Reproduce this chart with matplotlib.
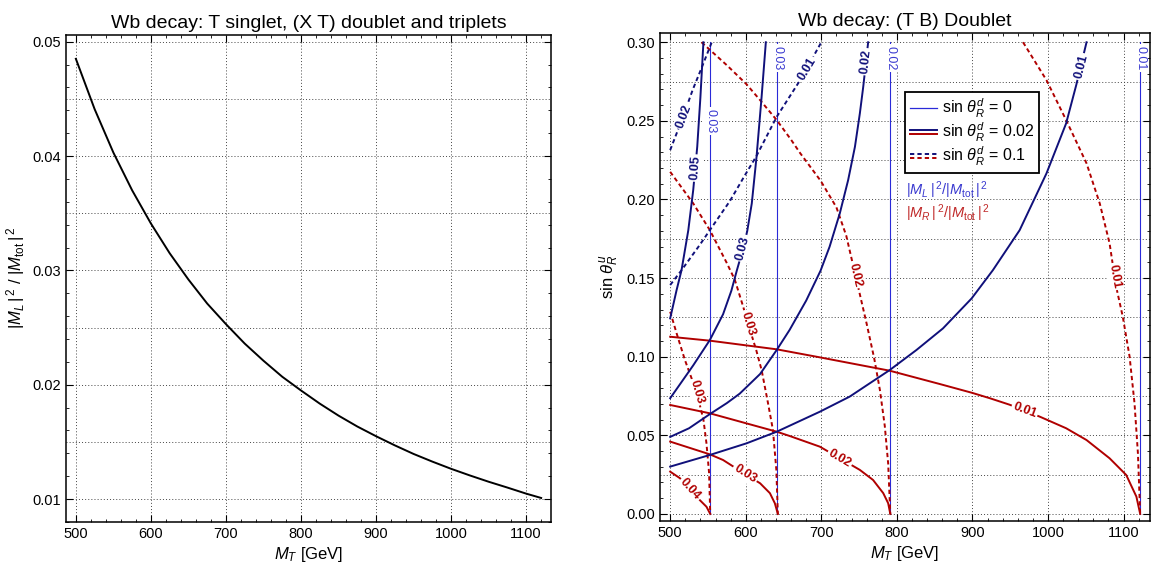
import numpy as np
import matplotlib
matplotlib.use('Agg')
import matplotlib.pyplot as plt
from matplotlib.lines import Line2D
from matplotlib.legend_handler import HandlerBase
from matplotlib.ticker import MultipleLocator, FormatStrFormatter

plt.rcParams['font.family'] = ['Liberation Sans', 'DejaVu Sans']
plt.rcParams['mathtext.fontset'] = 'custom'
plt.rcParams['mathtext.rm'] = 'Liberation Sans'
plt.rcParams['mathtext.it'] = 'Liberation Sans:italic'
plt.rcParams['mathtext.bf'] = 'Liberation Sans:bold'

# ---------------- Left panel data ----------------
mt_left = [500, 525, 550, 575, 600, 625, 650, 675, 700, 725, 750, 775, 800, 825, 850,
           875, 900, 925, 950, 975, 1000, 1025, 1050, 1075, 1100, 1120]
ml_ratio = [0.0485, 0.0441, 0.0403, 0.0370, 0.0341, 0.0315, 0.0292, 0.0271, 0.0253,
            0.0236, 0.0221, 0.0207, 0.0195, 0.01835, 0.0173, 0.01635, 0.0155, 0.0147,
            0.01395, 0.01328, 0.01265, 0.01207, 0.01152, 0.01101, 0.01048, 0.0101]

# ---------------- Right panel data ----------------
# sin theta_R^d = 0 : |M_L|^2/|M_tot|^2 contours (vertical lines)
thin_x = [553, 642, 791, 1122]
thin_labels = ['0.03', '0.03', '0.02', '0.01']
thin_label_y = [0.250, 0.290, 0.290, 0.290]

# sin theta_R^d = 0.02 : |M_L|^2/|M_tot|^2 (navy solid)
navyA_x = [500, 508.5, 515, 524, 530.5, 535.8, 540, 544]
navyA_y = [0.1244, 0.1424, 0.155, 0.1805, 0.206, 0.2335, 0.265, 0.300]
navyB_x = [500, 513, 530.5, 552.5, 570, 581, 588, 596.6, 602, 608, 614.3, 621, 626.6]
navyB_y = [0.0736, 0.0825, 0.0945, 0.1106, 0.1270, 0.1420, 0.1545, 0.1690, 0.1800,
           0.1975, 0.2272, 0.2653, 0.300]
navyC_x = [500, 525, 552.5, 575, 592, 619, 641, 658, 680, 699, 711, 724.5, 735.5, 744.5,
           751, 755.5, 762]
navyC_y = [0.049, 0.0545, 0.0635, 0.0705, 0.0765, 0.0890, 0.1043, 0.1170, 0.1357, 0.1547,
           0.170, 0.1912, 0.2123, 0.2335, 0.2547, 0.2717, 0.300]
navyD_x = [500, 552.5, 601, 641, 698, 737.5, 790.5, 826, 861, 899, 927, 962.5, 998, 1024,
           1037.5, 1051]
navyD_y = [0.0301, 0.0375, 0.0449, 0.0523, 0.065, 0.0746, 0.0915, 0.1043, 0.118, 0.1371,
           0.155, 0.1805, 0.2166, 0.2484, 0.2730, 0.300]
navy_solid = [(navyA_x, navyA_y, '0.05', 533.5, 0.220),
              (navyB_x, navyB_y, '0.03', 596.6, 0.169),
              (navyC_x, navyC_y, '0.02', 759.5, 0.2876),
              (navyD_x, navyD_y, '0.01', 1044, 0.2845)]

# sin theta_R^d = 0.1 : |M_L|^2/|M_tot|^2 (navy dashed)
navyE_x = [500, 515, 539, 552.5, 579, 599, 614, 641, 672, 700]
navyE_y = [0.1456, 0.155, 0.171, 0.1805, 0.199, 0.2155, 0.2275, 0.2526, 0.2759, 0.300]
navyF_x = [500, 517, 530, 541, 555]
navyF_y = [0.2314, 0.2526, 0.2700, 0.2830, 0.300]
navy_dashed = [(navyE_x, navyE_y, '0.01', 681, 0.283),
               (navyF_x, navyF_y, '0.02', 518, 0.253)]

# sin theta_R^d = 0.1 : |M_R|^2/|M_tot|^2 (red dashed)
redG1_x = [541.5, 575, 601, 619, 641, 660, 672, 699, 720, 733, 747, 760, 770, 777.5, 784,
           788.5, 791.3]
redG1_y = [0.300, 0.2854, 0.2733, 0.2632, 0.2505, 0.2380, 0.2295, 0.2120, 0.1950, 0.1770,
           0.1480, 0.1210, 0.0990, 0.0790, 0.0560, 0.0320, 0.0]
redG2_x = [500, 530.5, 552.5, 574.5, 585.5, 596.5, 603, 614, 621, 629.5, 636, 640.5, 642.5]
redG2_y = [0.2176, 0.1975, 0.1805, 0.160, 0.149, 0.132, 0.1212, 0.1040, 0.0915, 0.0704,
           0.0534, 0.028, 0.0]
redG3_x = [500, 508.5, 519.5, 527, 535, 544, 548, 551.5, 553]
redG3_y = [0.1286, 0.1149, 0.0979, 0.0880, 0.0775, 0.0600, 0.0450, 0.0260, 0.0]
redG4_x = [967, 998, 1024, 1051, 1068.5, 1081.5, 1090, 1099, 1108, 1114.5, 1119, 1122]
redG4_y = [0.300, 0.2759, 0.2505, 0.223, 0.1975, 0.1721, 0.145, 0.1254, 0.100, 0.0704,
           0.0386, 0.0]
red_dashed = [(redG1_x, redG1_y, '0.02', 745, 0.152),
              (redG2_x, redG2_y, '0.03', 603, 0.1212),
              (redG3_x, redG3_y, '0.03', 535, 0.0775),
              (redG4_x, redG4_y, '0.01', 1088.5, 0.151)]

# sin theta_R^d = 0.02 : |M_R|^2/|M_tot|^2 (red solid)
redH1_x = [500, 552.5, 641, 698, 790.5, 857, 899, 923, 949, 989, 1024, 1051, 1081.5, 1103.5,
           1117, 1122]
redH1_y = [0.1127, 0.1102, 0.1047, 0.0996, 0.0911, 0.0826, 0.0771, 0.0736, 0.0695, 0.0619,
           0.0545, 0.047, 0.0354, 0.0248, 0.011, 0.0]
redH2_x = [500, 552.5, 641, 658, 698, 724.5, 751, 768.5, 782, 788.5, 791.3]
redH2_y = [0.0693, 0.064, 0.0523, 0.0496, 0.0428, 0.0354, 0.028, 0.0216, 0.0132, 0.0068, 0.0]
redH3_x = [500, 552.5, 570, 599, 619, 632, 638.5, 642.5]
redH3_y = [0.046, 0.0379, 0.0343, 0.0254, 0.0195, 0.0132, 0.0068, 0.0]
redH4_x = [500, 513, 526, 539, 548, 553]
redH4_y = [0.0269, 0.0227, 0.0155, 0.0089, 0.0046, 0.0]
red_solid = [(redH1_x, redH1_y, '0.01', 969, 0.0657),
             (redH2_x, redH2_y, '0.02', 724.5, 0.0354),
             (redH3_x, redH3_y, '0.03', 599, 0.0254),
             (redH4_x, redH4_y, '0.04', 526, 0.0155)]

NAVY = '#10107a'
RED = '#b00000'
BLUE = '#2a2ad8'
BLUE_TXT = '#3a3ad0'
RED_TXT = '#c02828'
GRID = dict(color='#444444', lw=0.7, ls=(0, (1, 2.2)), zorder=0)

fig = plt.figure(figsize=(11.53, 5.75), dpi=100)
axL = fig.add_axes([0.0572, 0.0922, 0.4206, 0.8473])
axR = fig.add_axes([0.5724, 0.0939, 0.4250, 0.8490])


def style_axes(ax):
    for s in ax.spines.values():
        s.set_linewidth(1.1)
        s.set_color('black')
    ax.tick_params(which='both', direction='in', top=True, right=True,
                   labelsize=10.5, colors='black')
    ax.tick_params(which='major', length=5, width=0.8)
    ax.tick_params(which='minor', length=2.5, width=0.6)


# ---------------- Left ----------------
axL.set_xlim(486.8, 1133)
axL.set_ylim(0.0080, 0.0506)
for g in np.arange(500, 1101, 100):
    axL.axvline(g, **GRID)
for g in np.arange(0.010, 0.0501, 0.005):
    axL.axhline(g, **GRID)
axL.plot(mt_left, ml_ratio, color='black', lw=1.4, zorder=3)
axL.xaxis.set_major_locator(MultipleLocator(100))
axL.xaxis.set_minor_locator(MultipleLocator(20))
axL.yaxis.set_major_locator(MultipleLocator(0.01))
axL.yaxis.set_minor_locator(MultipleLocator(0.002))
axL.yaxis.set_major_formatter(FormatStrFormatter('%.2f'))
style_axes(axL)
axL.set_title('Wb decay: T singlet, (X T) doublet and triplets', fontsize=14, pad=5)
axL.set_xlabel(r'$M_T$ [GeV]', fontsize=12, labelpad=3)
axL.set_ylabel(r'$|M_L\,|^{\,2}$ / $|M_{\mathrm{tot}}\,|^{\,2}$', fontsize=12, labelpad=4)

# ---------------- Right ----------------
axR.set_xlim(486.5, 1135)
axR.set_ylim(-0.0045, 0.306)
for g in np.arange(500, 1101, 100):
    axR.axvline(g, **GRID)
for g in np.arange(0.0, 0.3001, 0.025):
    axR.axhline(g, **GRID)
axR.xaxis.set_major_locator(MultipleLocator(100))
axR.xaxis.set_minor_locator(MultipleLocator(20))
axR.yaxis.set_major_locator(MultipleLocator(0.05))
axR.yaxis.set_minor_locator(MultipleLocator(0.01))
axR.yaxis.set_major_formatter(FormatStrFormatter('%.2f'))
style_axes(axR)
axR.set_title('Wb decay: (T B) Doublet', fontsize=14, pad=5)
axR.set_xlabel(r'$M_T$ [GeV]', fontsize=12, labelpad=3)
axR.set_ylabel(r'sin $\theta_R^u$', fontsize=12, labelpad=4)


def label_curve(ax, xs, ys, lx, ly, text, color, bold=True, rot=None, size=9):
    if rot is None:
        pts = ax.transData.transform(np.column_stack([xs, ys]))
        p = ax.transData.transform((lx, ly))
        d = np.hypot(pts[:, 0] - p[0], pts[:, 1] - p[1])
        i = int(np.argmin(d))
        i0, i1 = max(i - 1, 0), min(i + 1, len(xs) - 1)
        dx, dy = pts[i1] - pts[i0]
        ang = np.degrees(np.arctan2(dy, dx))
        if ang > 90:
            ang -= 180
        if ang <= -90:
            ang += 180
        rot = ang
    ax.text(lx, ly, text, color=color, fontsize=size,
            fontweight='bold' if bold else 'normal', rotation=rot,
            rotation_mode='anchor', ha='center', va='center',
            bbox=dict(boxstyle='square,pad=0.12', fc='white', ec='none'), zorder=6)


# thin vertical lines
for xv, lab, ly in zip(thin_x, thin_labels, thin_label_y):
    axR.plot([xv, xv], [0.0, 0.30], color=BLUE, lw=0.8, zorder=3)
    label_curve(axR, [xv, xv], [0.0, 0.30], xv, ly, lab, BLUE_TXT, bold=False, rot=-90)

dash_pat = (2.2, 1.6)
for xs, ys, lab, lx, ly in red_dashed:
    axR.plot(xs, ys, color=RED, lw=1.4, dashes=dash_pat, zorder=3)
    label_curve(axR, xs, ys, lx, ly, lab, RED)
for xs, ys, lab, lx, ly in navy_dashed:
    axR.plot(xs, ys, color=NAVY, lw=1.4, dashes=dash_pat, zorder=3)
    label_curve(axR, xs, ys, lx, ly, lab, NAVY)
for xs, ys, lab, lx, ly in red_solid:
    axR.plot(xs, ys, color=RED, lw=1.4, zorder=4)
    label_curve(axR, xs, ys, lx, ly, lab, RED)
for xs, ys, lab, lx, ly in navy_solid:
    axR.plot(xs, ys, color=NAVY, lw=1.4, zorder=4)
    label_curve(axR, xs, ys, lx, ly, lab, NAVY)


class DoubleLine(HandlerBase):
    def __init__(self, c1, c2, lw, dashes=None, sep=1.4):
        super().__init__()
        self.c1, self.c2, self.lw, self.dashes, self.sep = c1, c2, lw, dashes, sep

    def create_artists(self, legend, orig_handle, xdescent, ydescent,
                       width, height, fontsize, trans):
        y = (height - ydescent) / 2
        x0, x1 = -xdescent, width - xdescent
        arts = []
        for c, off in ((self.c1, self.sep), (self.c2, -self.sep)):
            ln = Line2D([x0, x1], [y + off, y + off], color=c, lw=self.lw, transform=trans)
            if self.dashes:
                ln.set_dashes(self.dashes)
            arts.append(ln)
        return arts


h0 = Line2D([], [], color=BLUE, lw=0.9)
h1 = Line2D([], [], color=NAVY, lw=1.4)
h2 = Line2D([], [], color=NAVY, lw=1.4, ls='--')
leg = axR.legend([h0, h1, h2],
                 [r'sin $\theta_R^d$ = 0', r'sin $\theta_R^d$ = 0.02', r'sin $\theta_R^d$ = 0.1'],
                 handler_map={h1: DoubleLine(NAVY, RED, 1.4),
                              h2: DoubleLine(NAVY, RED, 1.4, dashes=dash_pat)},
                 loc='upper left', bbox_to_anchor=(0.5, 0.879), borderaxespad=0,
                 fontsize=11.5, handlelength=1.7, handletextpad=0.3,
                 labelspacing=0.06, borderpad=0.3, fancybox=False, framealpha=1,
                 edgecolor='black')
leg.get_frame().set_linewidth(1.3)
leg.set_zorder(10)

axR.text(0.503, 0.678, r'$|M_L\,|^{\,2}/|M_{\mathrm{tot}}\,|^{\,2}$', transform=axR.transAxes,
         color=BLUE_TXT, fontsize=10.5, ha='left', va='center', zorder=10)
axR.text(0.503, 0.630, r'$|M_R\,|^{\,2}/|M_{\mathrm{tot}}\,|^{\,2}$', transform=axR.transAxes,
         color=RED_TXT, fontsize=10.5, ha='left', va='center', zorder=10)

fig.savefig('out.png', dpi=100)
